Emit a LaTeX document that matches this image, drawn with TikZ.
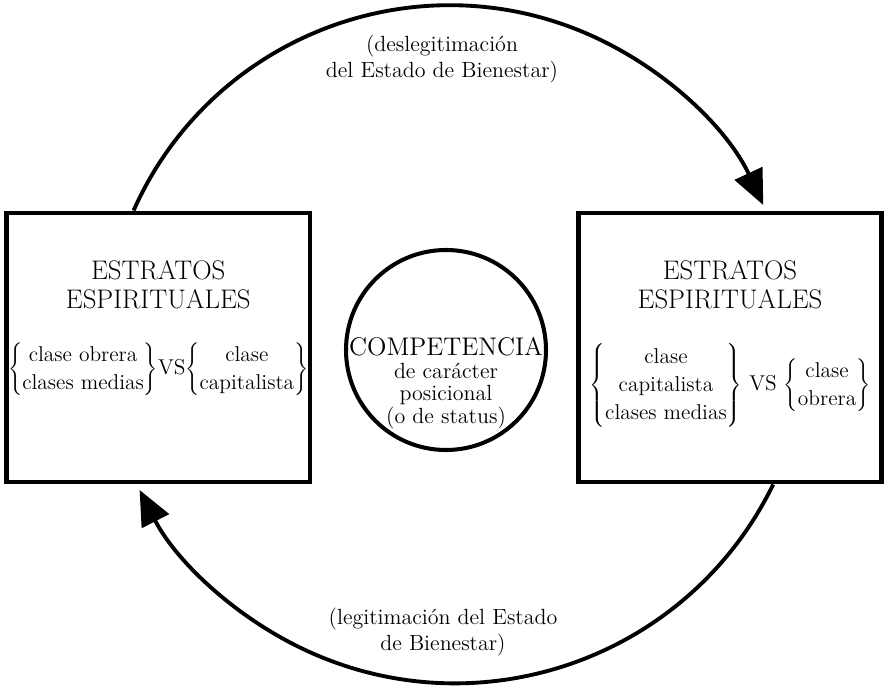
\documentclass[tikz,border=0pt]{standalone}
\usetikzlibrary{arrows.meta,positioning,calc}
\begin{document}
\begin{tikzpicture}[box/.style={draw,line width=2.8pt,minimum width=6.07cm,minimum height=5.38cm,inner sep=0},
	disc/.style={circle,draw,line width=2.3pt,minimum size=4cm,inner sep=0},
	head/.style={align=center,inner sep=0,font=\fontsize{15.3}{16.5}\selectfont},
	group/.style={align=center,inner sep=0,font=\fontsize{12.2}{16}\selectfont},
	txt/.style={align=center,inner sep=0,font=\fontsize{12.5}{15}\selectfont},
	flow/.style={line width=2.2pt,-{Triangle[length=0.7cm,width=0.6cm]}}]
\useasboundingbox (0,0) rectangle (17.72,13.76);
\node[box] (L) at (3.165,6.81) {};
\node[box] (R) at (14.6,6.81) {};
\node[disc] (C) at (8.92,6.76) {};
\node[head] (Lhead) at ([yshift=-1.48cm]L.north) {ESTRATOS\\ESPIRITUALES};
\node[head] (Rhead) at ([yshift=-1.48cm]R.north) {ESTRATOS\\ESPIRITUALES};
\node[group] (Lgroup) at ([yshift=-3.18cm]L.north)
	{$\left\{\begin{tabular}{@{}c@{}}clase obrera\\clases medias\end{tabular}\right\}$VS$\left\{\begin{tabular}{@{}c@{}}clase\\capitalista\end{tabular}\right\}$};
\node[group] (Rgroup) at ([yshift=-3.5cm]R.north)
	{$\left\{\begin{tabular}{@{}c@{}}clase\\capitalista\\clases medias\end{tabular}\right\}$ VS $\left\{\begin{tabular}{@{}c@{}}clase\\obrera\end{tabular}\right\}$};
\node[txt,font=\fontsize{12.5}{12.8}\selectfont] (Ctext) at ([yshift=-0.66cm]C.center)
	{{\fontsize{14.5}{16}\selectfont COMPETENCIA}\\de carácter\\posicional\\(o de status)};
\node[txt] (up) at (8.84,12.58) {(deslegitimación\\del Estado de Bienestar)};
\node[txt] (down) at (8.86,1.12) {(legitimación del Estado\\de Bienestar)};
\coordinate (a) at ($(L.north west)!0.42!(L.north east)$);
\coordinate (b) at ($(R.south west)!0.64!(R.south east)$);
\draw[flow] (a) arc[start angle=156,end angle=25,radius=6.92cm];
\draw[flow] (b) arc[start angle=-26,end angle=-153,radius=7.08cm];
\end{tikzpicture}
\end{document}
